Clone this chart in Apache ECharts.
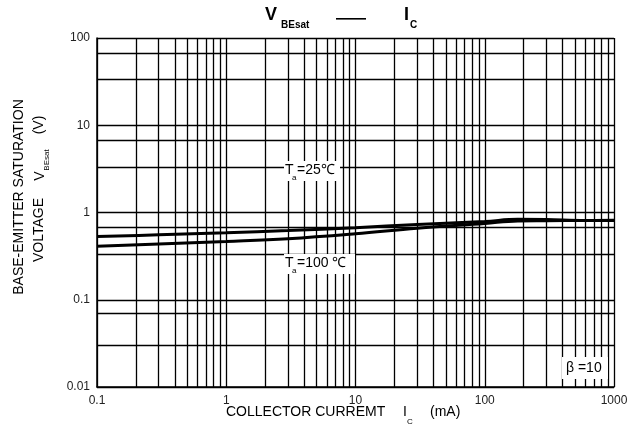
<!DOCTYPE html>
<html>
<head>
<meta charset="utf-8">
<script src="https://cdn.jsdelivr.net/npm/echarts@6/dist/echarts.min.js"></script>
<style>html,body{margin:0;padding:0;background:#fff}#c{width:641px;height:435px}</style>
</head>
<body>
<div id="c"></div>
<script>
// ---- data ----
const xTickLabels = ['0.1', '1', '10', '100', '1000'];
const yTickLabels = ['0.01', '0.1', '1', '10', '100'];
const curve25I = [0.1, 0.3, 1, 3, 10, 30, 100, 180, 300, 600, 1000];
const curve25V = [0.53, 0.555, 0.585, 0.62, 0.67, 0.73, 0.79, 0.835, 0.83, 0.81, 0.81];
const curve100I = [0.1, 0.3, 1, 3, 10, 30, 100, 180, 300, 600, 1000];
const curve100V = [0.41, 0.435, 0.465, 0.5, 0.57, 0.66, 0.75, 0.8, 0.805, 0.81, 0.815];
const xGridValues = [];
[0.1, 1, 10, 100].forEach(d => { for (let k = 1; k <= 9; k++) xGridValues.push(+(d * k).toPrecision(3)); });
xGridValues.push(1000);
const yGridValues = [];
[0.01, 0.1, 1, 10].forEach(d => { yGridValues.push(d, d * 10 / 3, d * 20 / 3); });
yGridValues.push(100);

const chart = echarts.init(document.getElementById('c'), null, { renderer: 'canvas' });
const FONT = 'Liberation Sans, Arial, sans-serif';
const gridLeft = 97, gridTop = 38, gridRight = 27, gridBottom = 48;

function fmt(labels) {
  return function (v) {
    for (const s of labels) { if (Math.abs(Math.log10(parseFloat(s)) - Math.log10(v)) < 1e-6) return s; }
    return '';
  };
}

const gridLineStyle = { color: '#000', width: 1.3, type: 'solid' };

const option = {
  animation: false,
  backgroundColor: '#fff',
  grid: { left: gridLeft, top: gridTop, right: gridRight, bottom: gridBottom },
  xAxis: {
    type: 'log', logBase: 10, min: 0.1, max: 1000,
    axisLine: { show: true, onZero: false, lineStyle: { color: '#000', width: 1.5 } },
    axisTick: { show: false },
    splitLine: { show: false },
    axisLabel: { color: '#222', fontFamily: FONT, fontSize: 12, margin: 8, formatter: fmt(xTickLabels) }
  },
  yAxis: {
    type: 'log', logBase: 10, min: 0.01, max: 100,
    axisLine: { show: true, onZero: false, lineStyle: { color: '#000', width: 1.5 } },
    axisTick: { show: false },
    splitLine: { show: false },
    axisLabel: { color: '#222', fontFamily: FONT, fontSize: 12, margin: 7, formatter: fmt(yTickLabels) }
  },
  series: [
    {
      type: 'line', data: [], silent: true,
      markLine: {
        silent: true, symbol: ['none', 'none'], animation: false,
        label: { show: false },
        lineStyle: gridLineStyle,
        data: xGridValues.map(v => ({ xAxis: v })).concat(yGridValues.map(v => ({ yAxis: v })))
      }
    },
    {
      name: '25', type: 'line', smooth: 0.4, symbol: 'none',
      lineStyle: { color: '#000', width: 3 },
      data: curve25I.map((x, i) => [x, curve25V[i]]), z: 5
    },
    {
      name: '100', type: 'line', smooth: 0.4, symbol: 'none',
      lineStyle: { color: '#000', width: 3 },
      data: curve100I.map((x, i) => [x, curve100V[i]]), z: 5
    }
  ],
  graphic: [
    // title
    { type: 'text', left: 265, top: 6, style: { text: 'V', font: 'bold 18px ' + FONT, fill: '#000' } },
    { type: 'text', left: 281, top: 20, style: { text: 'BEsat', font: 'bold 10px ' + FONT, fill: '#000' } },
    { type: 'rect', shape: { x: 336, y: 18, width: 30, height: 1.6 }, style: { fill: '#000' } },
    { type: 'text', left: 404, top: 6, style: { text: 'I', font: 'bold 18px ' + FONT, fill: '#000' } },
    { type: 'text', left: 410, top: 20, style: { text: 'C', font: 'bold 10px ' + FONT, fill: '#000' } },
    // x axis name
    { type: 'text', left: 226, top: 405, style: { text: 'COLLECTOR CURREMT', font: '14px ' + FONT, fill: '#000' } },
    { type: 'text', left: 403, top: 405, style: { text: 'I', font: '14px ' + FONT, fill: '#000' } },
    { type: 'text', left: 407, top: 418, style: { text: 'C', font: '8px ' + FONT, fill: '#000' } },
    { type: 'text', left: 430, top: 405, style: { text: '(mA)', font: '14px ' + FONT, fill: '#000' } },
    // y axis name (rotated)
    { type: 'text', x: 19, y: 197, rotation: Math.PI / 2,
      style: { text: 'BASE-EMITTER SATURATION', font: '14px ' + FONT, fill: '#000', align: 'center', verticalAlign: 'middle' } },
    { type: 'text', x: 39, y: 230, rotation: Math.PI / 2,
      style: { text: 'VOLTAGE', font: '14px ' + FONT, fill: '#000', align: 'center', verticalAlign: 'middle' } },
    { type: 'text', x: 40, y: 176, rotation: Math.PI / 2,
      style: { text: 'V', font: '14px ' + FONT, fill: '#000', align: 'center', verticalAlign: 'middle' } },
    { type: 'text', x: 47, y: 160, rotation: Math.PI / 2,
      style: { text: 'BEsat', font: '8px ' + FONT, fill: '#000', align: 'center', verticalAlign: 'middle' } },
    { type: 'text', x: 39, y: 125, rotation: Math.PI / 2,
      style: { text: '(V)', font: '14px ' + FONT, fill: '#000', align: 'center', verticalAlign: 'middle' } },
    // annotations
    { type: 'rect', shape: { x: 284, y: 161, width: 56, height: 20 }, style: { fill: '#fff' }, z: 10 },
    { type: 'text', left: 285, top: 163, z: 11, style: { text: 'T', font: '14px ' + FONT, fill: '#000' } },
    { type: 'text', left: 292, top: 174, z: 11, style: { text: 'a', font: '8px ' + FONT, fill: '#000' } },
    { type: 'text', left: 297, top: 163, z: 11, style: { text: '=25℃', font: '14px ' + FONT, fill: '#000' } },
    { type: 'rect', shape: { x: 284, y: 254, width: 71, height: 20 }, style: { fill: '#fff' }, z: 10 },
    { type: 'text', left: 285, top: 256, z: 11, style: { text: 'T', font: '14px ' + FONT, fill: '#000' } },
    { type: 'text', left: 292, top: 267, z: 11, style: { text: 'a', font: '8px ' + FONT, fill: '#000' } },
    { type: 'text', left: 297, top: 256, z: 11, style: { text: '=100 ℃', font: '14px ' + FONT, fill: '#000' } },
    { type: 'rect', shape: { x: 562, y: 357, width: 46, height: 22 }, style: { fill: '#fff' }, z: 10 },
    { type: 'text', left: 566, top: 361, z: 11, style: { text: 'β =10', font: '14px ' + FONT, fill: '#000' } }
  ]
};
chart.setOption(option);
</script>
</body>
</html>
